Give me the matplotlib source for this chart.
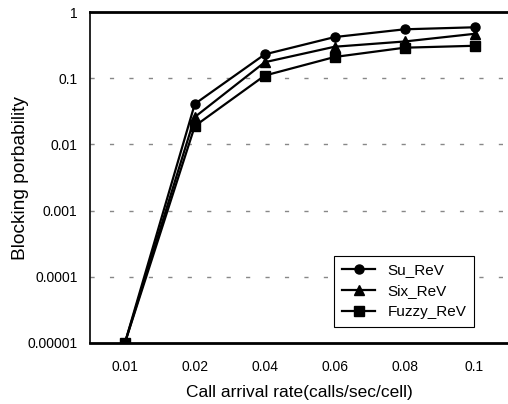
import matplotlib
matplotlib.use("Agg")
import matplotlib.pyplot as plt
import numpy as np

plt.rcParams['font.family'] = ['Liberation Sans', 'DejaVu Sans']

# call arrival rates (categories) and blocking probabilities per scheme
rates = ["0.01", "0.02", "0.04", "0.06", "0.08", "0.1"]
su_rev = [0.00001, 0.041, 0.23, 0.42, 0.55, 0.59]
six_rev = [0.00001, 0.026, 0.175, 0.30, 0.36, 0.47]
fuzzy_rev = [0.00001, 0.019, 0.11, 0.21, 0.29, 0.31]

y_ticks = [0.00001, 0.0001, 0.001, 0.01, 0.1, 1]
y_labels = ["0.00001", "0.0001", "0.001", "0.01", "0.1", "1"]

fig = plt.figure(figsize=(5.08, 4.04), dpi=100)
ax = fig.add_axes([0.177, 0.151, 0.826, 0.819])

x = np.arange(len(rates))
ax.plot(x, su_rev, color="k", lw=1.6, marker="o", ms=6.5, label="Su_ReV", zorder=3)
ax.plot(x, six_rev, color="k", lw=1.6, marker="^", ms=6.5, label="Six_ReV", zorder=3)
ax.plot(x, fuzzy_rev, color="k", lw=1.6, marker="s", ms=6.5, label="Fuzzy_ReV", zorder=3)

ax.set_yscale("log")
ax.set_ylim(0.00001, 1)
ax.set_xlim(-0.5, len(rates) - 0.5)
ax.set_yticks(y_ticks)
ax.set_yticklabels(y_labels)
ax.minorticks_off()
ax.set_xticks(x)
ax.set_xticklabels(rates)
ax.tick_params(length=0, labelsize=10, pad=12)
ax.tick_params(axis="y", pad=9)

# dashed horizontal grid lines
for yv in y_ticks[1:-1]:
    ax.axhline(yv, color="#888888", lw=1, linestyle=(0, (3, 11)), zorder=1)

ax.spines["right"].set_visible(False)
ax.spines["top"].set_linewidth(2)
ax.spines["bottom"].set_linewidth(2)
ax.spines["left"].set_linewidth(1.2)

ax.set_xlabel("Call arrival rate(calls/sec/cell)", fontsize=12.5)
ax.xaxis.set_label_coords(0.5, -0.128)
ax.set_ylabel("Blocking porbability", fontsize=13.8)
ax.yaxis.set_label_coords(-0.145, 0.5)

leg = ax.legend(loc="lower right", bbox_to_anchor=(0.934, 0.026), fontsize=11,
                fancybox=False, framealpha=1, edgecolor="k",
                handlelength=2.2, borderpad=0.5, labelspacing=0.45)
leg.get_frame().set_linewidth(0.8)

fig.savefig("out.png", dpi=100)
